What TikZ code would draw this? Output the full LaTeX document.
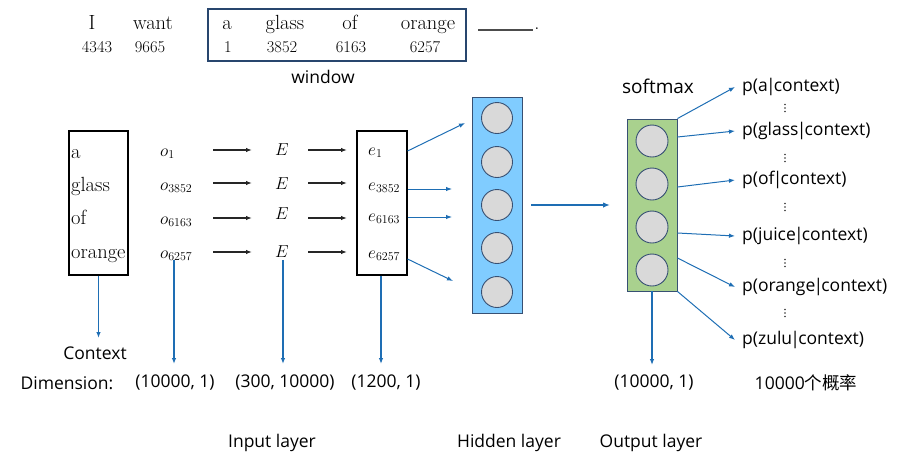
\documentclass[tikz,border=0pt]{standalone}
\usepackage{fontspec}
\setsansfont{Open Sans}
\newfontfamily\cjkfont{Noto Sans CJK SC}
\usetikzlibrary{arrows.meta}
\definecolor{hidblue}{RGB}{128,204,255}
\definecolor{outgreen}{RGB}{169,209,142}
\definecolor{cellgray}{RGB}{217,217,217}
\definecolor{celledge}{RGB}{55,80,115}
\definecolor{arrblue}{RGB}{30,110,180}
\definecolor{winblue}{RGB}{40,70,110}
\newcommand{\mypipe}{\kern-1.8pt|\kern-1.8pt}
\begin{document}
\begin{tikzpicture}[x=1pt,y=-1pt,
  word/.style={font=\fontsize{20.5}{21}\selectfont, inner sep=0pt, anchor=base},
  lword/.style={word, anchor=base west},
  num/.style={font=\fontsize{16.5}{17}\selectfont, inner sep=0pt, anchor=base},
  mth/.style={font=\fontsize{16.5}{17}\selectfont, inner sep=0pt, anchor=base west},
  lab/.style={font=\sffamily\fontsize{17.5}{19}\selectfont, inner sep=0pt},
  plab/.style={lab, anchor=west},
  box/.style={draw=black, line width=1.1pt, inner sep=0pt},
  cell/.style={circle, draw=celledge, line width=0.9pt, fill=cellgray, minimum size=31pt, inner sep=0pt},
  blk/.style={-{Latex[length=6pt,width=4.5pt]}, line width=1.2pt, black!85},
  blu/.style={-{Latex[length=6pt,width=4.5pt]}, line width=1pt, arrblue},
  vblu/.style={-{Latex[length=6pt,width=4.5pt]}, line width=1.1pt, arrblue},
  vdot/.style={circle, fill=black!80, inner sep=0pt, minimum size=1.8pt}
]
\useasboundingbox (0,0) rectangle (924,459);

% ---------- top sentence ----------
\node[word] (wI) at (92,29) {I};
\node[word] (wwant) at (153,29) {want};
\node[word] (wa) at (227,29) {a};
\node[word] (wglass) at (285,29) {glass};
\node[word] (wof) at (350,29) {of};
\node[word] (worange) at (428,29) {orange};
\node[num] (n1) at (97,52) {4343};
\node[num] (n2) at (150,52) {9665};
\node[num] (n3) at (228,52) {1};
\node[num] (n4) at (282,52) {3852};
\node[num] (n5) at (351,52) {6163};
\node[num] (n6) at (425,52) {6257};
\node[draw=winblue, line width=1.1pt, minimum width=258pt, minimum height=52pt, inner sep=0pt] (win) at (337,35) {};
\node[lab, anchor=base] (winlab) at (323,83) {window};
\coordinate (blankL) at (478,30);
\coordinate (blankR) at (533,30);
\draw[line width=1.3pt, black!70] (blankL) -- (blankR);
\node[word] (dot) at (537,29) {.};

% ---------- context box ----------
\node[box, minimum width=59pt, minimum height=144pt] (ctx) at (98.5,203) {};
\node[lword] (ca) at (71,158) {a};
\node[lword] (cglass) at (71,191) {glass};
\node[lword] (cof) at (71,224) {of};
\node[lword] (corange) at (71,258) {orange};

% ---------- one-hot, E, e ----------
\node[mth] (o1) at (160,156) {$o_{1}$};
\node[mth] (o2) at (160,190) {$o_{3852}$};
\node[mth] (o3) at (160,224) {$o_{6163}$};
\node[mth] (o4) at (160,258) {$o_{6257}$};
\node[mth] (E1) at (275,155) {$E$};
\node[mth] (E2) at (275,189) {$E$};
\node[mth] (E3) at (275,219) {$E$};
\node[mth] (E4) at (275,257) {$E$};
\node[box, minimum width=50pt, minimum height=144pt] (ebox) at (382,203) {};
\node[mth] (e1) at (368,155) {$e_{1}$};
\node[mth] (e2) at (368,190) {$e_{3852}$};
\node[mth] (e3) at (368,221) {$e_{6163}$};
\node[mth] (e4) at (368,258) {$e_{6257}$};

\foreach \i/\y in {1/150,2/183,3/218,4/252}{
  \coordinate (aoS\i) at (213,\y);
  \coordinate (aoT\i) at (252,\y);
  \coordinate (aeS\i) at (308,\y);
  \coordinate (aeT\i) at (347,\y);
  \draw[blk] (aoS\i) -- (aoT\i);
  \draw[blk] (aeS\i) -- (aeT\i);
}

% ---------- hidden layer ----------
\node[draw=celledge, line width=0.9pt, fill=hidblue, minimum width=50pt, minimum height=216pt, inner sep=0pt] (hid) at (497,205) {};
\foreach \i/\y in {1/118,2/162,3/205,4/248,5/292}{
  \node[cell] (h\i) at (497,\y) {};
}
\coordinate (hin1) at (465,123);
\coordinate (hin2) at (452,189);
\coordinate (hin3) at (452,217);
\coordinate (hin4) at (453,281);
\draw[blu] (ebox.east |- 0,151) -- (hin1);
\draw[blu] (ebox.east |- 0,189) -- (hin2);
\draw[blu] (ebox.east |- 0,217) -- (hin3);
\draw[blu] (ebox.east |- 0,259) -- (hin4);

% ---------- output layer ----------
\node[draw=celledge, line width=0.9pt, fill=outgreen, minimum width=50pt, minimum height=172pt, inner sep=0pt] (out) at (652,205) {};
\foreach \i/\y in {1/141,2/184,3/227,4/270}{
  \node[cell, minimum size=32pt] (c\i) at (652,\y) {};
}
\coordinate (outin) at (610,205);
\draw[-{Latex[length=7pt,width=5.5pt]}, line width=2pt, arrblue] (hid.east |- 0,205) ++(9,0) -- (outin);
\node[font=\sffamily\fontsize{19}{20}\selectfont, inner sep=0pt, anchor=base] (smax) at (658,93) {softmax};

\node[plab] (p1) at (742,87) {p(a\mypipe context)};
\node[plab] (p2) at (742,131) {p(glass\mypipe context)};
\node[plab] (p3) at (742,180) {p(of\mypipe context)};
\node[plab] (p4) at (742,236) {p(juice\mypipe context)};
\node[plab] (p5) at (742,287) {p(orange\mypipe context)};
\node[plab] (p6) at (742,340) {p(zulu\mypipe context)};
\foreach \y [count=\k] in {108,158,207,263,313}{
  \node[vdot] (dA\k) at (785,\y-3.5) {};
  \node[vdot] (dB\k) at (785,\y) {};
  \node[vdot] (dC\k) at (785,\y+3.5) {};
}
\draw[blu] (out.north east) -- ([xshift=-7pt]p1.west);
\draw[blu] (out.east |- 0,137) -- ([xshift=-7pt]p2.west);
\draw[blu] (out.east |- 0,187) -- ([xshift=-7pt]p3.west);
\draw[blu] (out.east |- 0,233) -- ([xshift=-7pt]p4.west);
\draw[blu] (out.east |- 0,258) -- ([xshift=-7pt]p5.west);
\draw[blu] (out.south east) -- ([xshift=-7pt]p6.west);

% ---------- bottom labels ----------
\node[lab] (ctxlab) at (95,353) {Context};
\node[lab] (dimlab) at (67,383) {Dimension:};
\node[lab] (d1) at (175,383) {(10000, 1)};
\node[lab] (d2) at (285,383) {(300, 10000)};
\node[lab] (d3) at (386,383) {(1200, 1)};
\node[lab] (d4) at (654,383) {(10000, 1)};
\node[lab] (d5) at (806,383) {10000{\cjkfont 个概率}};
\node[lab] (inlab) at (272,443) {Input layer};
\node[lab] (hidlab) at (509,443) {Hidden layer};
\node[lab] (outlab) at (651,443) {Output layer};

\draw[vblu] (ctx.south) -- (ctx.south |- 0,338);
\draw[vblu] (174,260) -- (174,364);
\draw[vblu] (283,260) -- (283,364);
\draw[vblu] (ebox.south -| 381,0) -- (381,364);
\draw[vblu] (out.south) -- (out.south |- 0,365);
\end{tikzpicture}
\end{document}
